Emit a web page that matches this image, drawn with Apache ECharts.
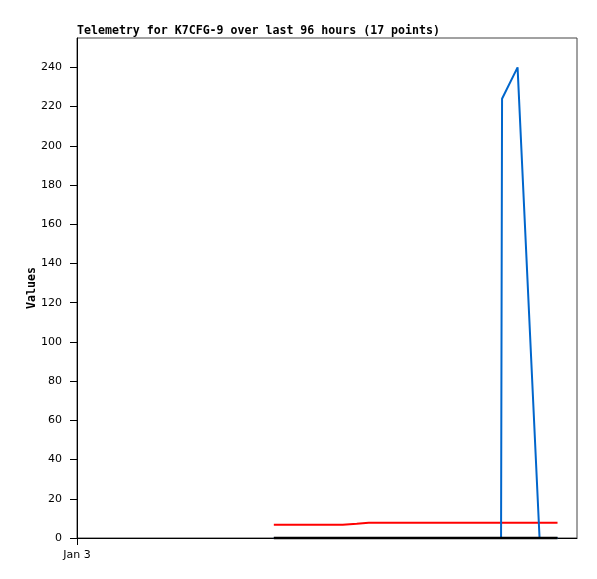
<!DOCTYPE html>
<html>
<head>
<meta charset="utf-8">
<script src="https://cdn.jsdelivr.net/npm/echarts@6/dist/echarts.min.js"></script>
<style>html,body{margin:0;padding:0;background:#fff}#c{width:597px;height:579px}</style>
</head>
<body>
<div id="c"></div>
<script>
// hours since Jan 3 00:00
const hours = [37.79, 41.81, 45.65, 48.53, 51.02, 53.71, 56.01, 60.04, 64.83, 69.63, 74.42, 79.22, 81.42, 81.61, 84.59, 88.81, 92.26];
const redValues = [6.8, 6.8, 6.8, 6.8, 6.8, 7.3, 7.8, 7.8, 7.8, 7.8, 7.8, 7.8, 7.8, 7.8, 7.8, 7.8, 7.8];
const blueValues = [0, 0, 0, 0, 0, 0, 0, 0, 0, 0, 0, 0, 0, 224, 240, 0, 0];
const blackValues = [0, 0, 0, 0, 0, 0, 0, 0, 0, 0, 0, 0, 0, 0, 0, 0, 0];
const xTickLabels = ['Jan 3'];
const yTicks = [0, 20, 40, 60, 80, 100, 120, 140, 160, 180, 200, 220, 240];

const pair = (vals) => hours.map((h, i) => [h, vals[i]]);
const chart = echarts.init(document.getElementById('c'), null, {renderer: 'canvas'});
chart.setOption({
  animation: false,
  backgroundColor: '#fff',
  title: {
    text: 'Telemetry for K7CFG-9 over last 96 hours (17 points)',
    left: 72, top: 20,
    textStyle: {fontFamily: 'DejaVu Sans Mono', fontWeight: 'bold', fontSize: 11.6, color: '#000'}
  },
  grid: {left: 77, right: 20, top: 38, bottom: 41, show: true, borderColor: '#444', borderWidth: 1, containLabel: false},
  xAxis: {
    type: 'value', min: 0, max: 96, interval: 96,
    axisLine: {show: true, lineStyle: {color: '#000', width: 1}},
    axisTick: {show: true, length: 7, lineStyle: {color: '#000'}, customValues: [0]},
    axisLabel: {show: true, customValues: [0], formatter: () => xTickLabels[0], color: '#000', fontFamily: 'DejaVu Sans', fontSize: 11, margin: 12},
    splitLine: {show: false}
  },
  yAxis: {
    type: 'value', min: 0, max: 255, interval: 20,
    name: 'Values', nameLocation: 'middle', nameGap: 39, nameRotate: 90, nameMoveOverlap: false,
    nameTextStyle: {fontFamily: 'DejaVu Sans Mono', fontWeight: 'bold', fontSize: 11.6, color: '#000'},
    axisLine: {show: true, lineStyle: {color: '#000', width: 1}},
    axisTick: {show: true, length: 7, lineStyle: {color: '#000'}, customValues: yTicks},
    axisLabel: {customValues: yTicks, color: '#000', fontFamily: 'DejaVu Sans', fontSize: 11, margin: 15},
    splitLine: {show: false}
  },
  series: [
    {type: 'line', data: pair(redValues), showSymbol: false, clip: false, lineStyle: {color: '#ff0000', width: 2}, z: 2},
    {type: 'line', data: pair(blueValues), showSymbol: false, clip: false, lineStyle: {color: '#0066cc', width: 2}, z: 3},
    {type: 'line', data: pair(blackValues), showSymbol: false, clip: false, lineStyle: {color: '#000000', width: 2.5}, z: 4}
  ]
});
</script>
</body>
</html>
